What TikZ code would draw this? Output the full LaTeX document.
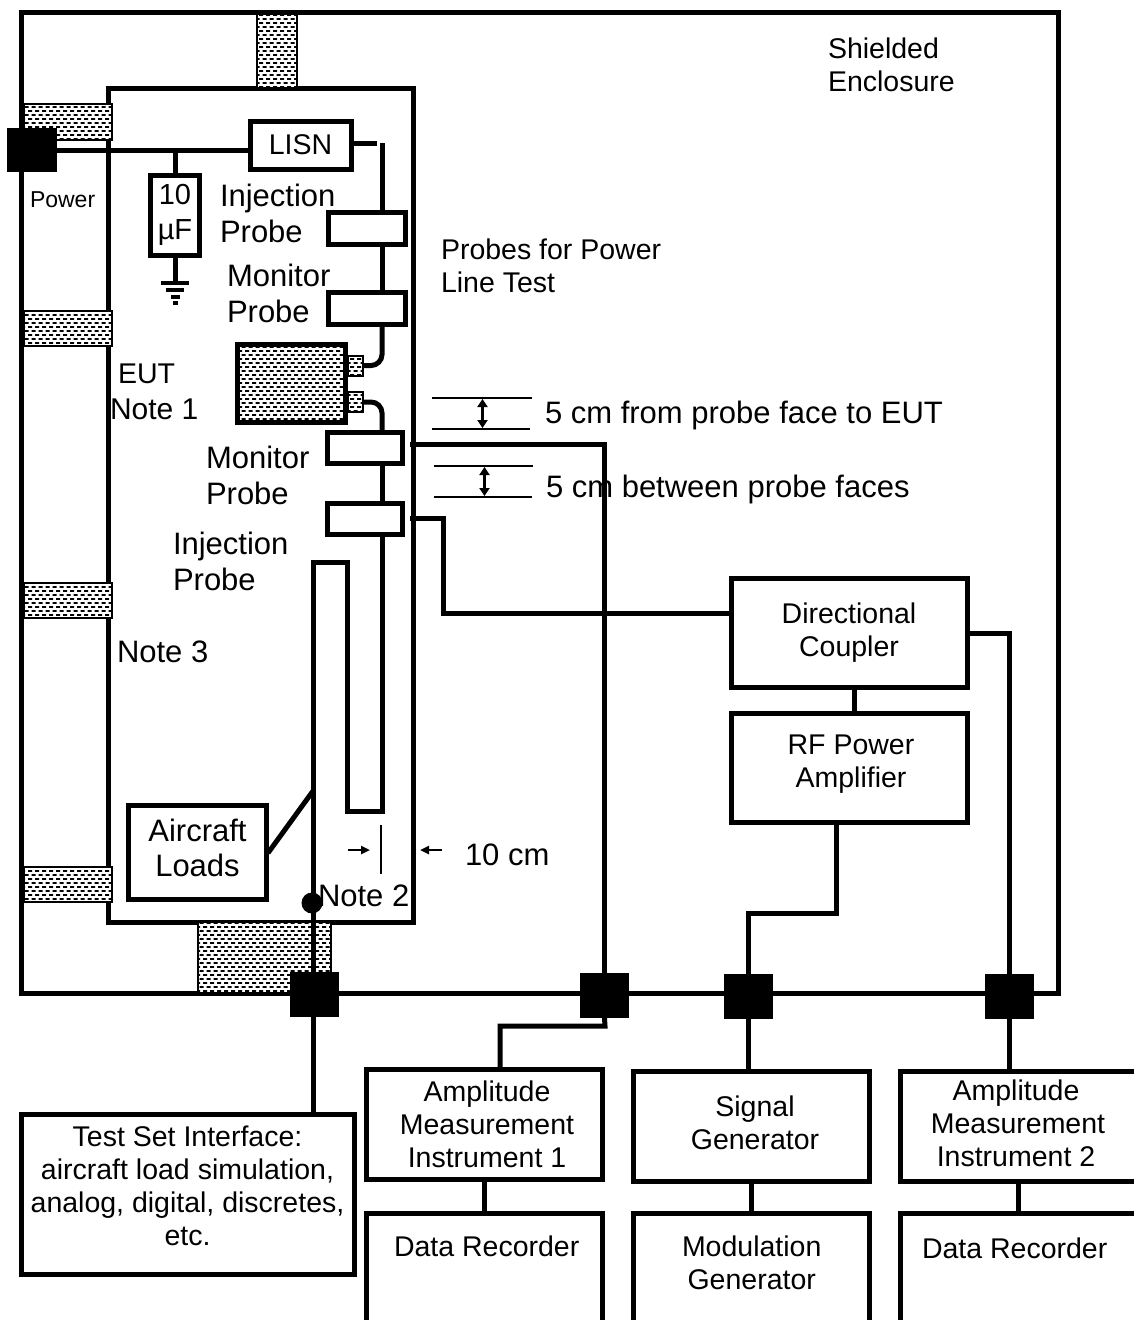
\documentclass[tikz,border=0pt]{standalone}
\usepackage{fontspec}
\setmainfont{Liberation Sans}
\usetikzlibrary{patterns,arrows.meta}
\pgfdeclarepatternformonly{meshdash}{\pgfqpoint{-0.5pt}{-0.5pt}}{\pgfqpoint{7.5pt}{8.5pt}}{\pgfqpoint{7pt}{8pt}}{
\pgfpathrectangle{\pgfqpoint{0pt}{0pt}}{\pgfqpoint{4pt}{1.9pt}}
\pgfpathrectangle{\pgfqpoint{3.5pt}{4pt}}{\pgfqpoint{4pt}{1.9pt}}
\pgfusepath{fill}}
\tikzset{
box/.style={draw, line width=5pt, fill=white, inner sep=0pt, outer sep=0pt, align=center, font=\fontsize{28.5}{33}\selectfont},
frame/.style={draw, line width=5pt, inner sep=0pt, outer sep=0pt},
mesh/.style={draw, line width=2pt, inner sep=0pt, outer sep=0pt, preaction={fill=white}, pattern=meshdash},
plug/.style={fill=black, inner sep=0pt, outer sep=0pt, minimum width=49pt, minimum height=45pt},
wire/.style={line width=5pt},
dimline/.style={line width=2.5pt},
lbl/.style={inner sep=0pt, outer sep=0pt, align=left, anchor=west, font=\fontsize{31}{36}\selectfont},
small/.style={lbl, font=\fontsize{28.5}{33}\selectfont},
}
\begin{document}
\begin{tikzpicture}[x=1pt, y=-1pt]
\useasboundingbox (0,0) rectangle (1134,1320);
% room and bench
\node[frame, minimum width=1037pt, minimum height=981pt] (enclosure) at (539.5,502.5) {};
\node[frame, minimum width=305pt, minimum height=834pt] (bench) at (261,505) {};
\node[mesh, minimum width=40pt, minimum height=74pt] (stript) at (277,51) {};
\node[mesh, minimum width=88pt, minimum height=36pt] (stripa) at (68,121.5) {};
\node[mesh, minimum width=88pt, minimum height=35pt] (stripb) at (68,328) {};
\node[mesh, minimum width=88pt, minimum height=35pt] (stripc) at (68,600.5) {};
\node[mesh, minimum width=88pt, minimum height=35pt] (stripd) at (68,884.5) {};
\node[mesh, minimum width=133pt, minimum height=71pt] (stripe) at (264.5,957.5) {};
% boxes on the bench
\node[box, minimum width=101pt, minimum height=48pt] (lisn) at (300.5,145) {LISN};
\node[box, minimum width=49pt, minimum height=80pt, font=\fontsize{29}{35}\selectfont] (cap) at (175,215) {10\\µF};
\node[box, minimum width=77pt, minimum height=32pt] (injtop) at (366.5,228) {};
\node[box, minimum width=77pt, minimum height=32pt] (montop) at (366.5,308) {};
\node[mesh, line width=5pt, minimum width=108pt, minimum height=78pt] (eut) at (291.5,383) {};
\node[mesh, minimum width=15pt, minimum height=20pt] (eutpa) at (355,365.5) {};
\node[mesh, minimum width=15pt, minimum height=20pt] (eutpb) at (355,402) {};
\node[box, minimum width=75pt, minimum height=31pt] (monlow) at (365,448) {};
\node[box, minimum width=75pt, minimum height=31pt] (injlow) at (365,518.5) {};
\node[box, minimum width=138pt, minimum height=94pt, text depth=10pt, font=\fontsize{31}{35}\selectfont] (loads) at (197.5,852.5) {Aircraft\\Loads};
% boxes outside
\node[box, minimum width=236pt, minimum height=109pt] (coupler) at (849,633) {Directional\\Coupler};
\node[box, minimum width=236pt, minimum height=109pt, text depth=14pt] (rfamp) at (849,768) {\hspace*{4pt}RF Power\\\hspace*{4pt}Amplifier};
\node[box, minimum width=333pt, minimum height=160pt, text depth=16pt] (testset) at (187.5,1194) {Test Set Interface:\\aircraft load simulation,\\analog, digital, discretes,\\etc.};
\node[box, minimum width=236pt, minimum height=110pt, text depth=-4pt] (ampa) at (484,1124) {\hspace*{6pt}Amplitude\\\hspace*{6pt}Measurement\\\hspace*{6pt}Instrument 1};
\node[box, minimum width=236pt, minimum height=110pt, text depth=7pt] (siggen) at (751,1126.5) {\hspace*{8pt}Signal\\\hspace*{8pt}Generator};
\node[box, minimum width=236pt, minimum height=110pt, text depth=6pt] (ampb) at (1018,1126.5) {Amplitude\hspace*{4pt}\\Measurement\hspace*{4pt}\\Instrument 2\hspace*{4pt}};
\node[box, minimum width=236pt, minimum height=150pt] (reca) at (484,1288) {};
\node[box, minimum width=236pt, minimum height=150pt] (modgen) at (751,1288) {};
\node[box, minimum width=236pt, minimum height=150pt] (recb) at (1018,1288) {};
% plugs
\node[plug, minimum height=44pt, minimum width=50pt] (power) at (32,150) {};
\node[plug] (plugload) at (314.5,994) {};
\node[plug] (plugmeas) at (604.5,995.5) {};
\node[plug] (plugsig) at (748.5,996.5) {};
\node[plug] (plugamp) at (1009.5,996.5) {};
% points
\coordinate (capjoin) at (175,150);
\coordinate (lisnout) at (377,143);
\coordinate (riser) at (382,143);
\coordinate (ubot) at (347,811);
\coordinate (utopr) at (347,562);
\coordinate (utopl) at (313,562);
\coordinate (tapm) at (410,444);
\coordinate (tapi) at (410,518);
\coordinate (tapbend) at (443,518);
\coordinate (couplerin) at (731,613);
\coordinate (measjog) at (605,1026);
\coordinate (measdrop) at (500,1026);
\coordinate (cplink) at (854,700);
\coordinate (rfout) at (836,913);
\coordinate (loadtap) at (313,791);
\coordinate (loadend) at (268,853);
\coordinate (gnd) at (175,283);
\coordinate (tenl) at (348,850);
\coordinate (tenr) at (442,850);
\coordinate (tenb) at (381,825);
% wires
\draw[wire] (power.east) -- (capjoin) -- (capjoin -| lisn.west);
\draw[wire] (capjoin) -- (cap.north);
\draw[wire] (cap.south) -- (gnd);
\draw[line width=4pt] (161,283) -- (189,283);
\draw[line width=4pt] (166,290) -- (184,290);
\draw[line width=4pt] (171,297) -- (180,297);
\draw[line width=4pt] (173,303) -- (178,303);
\draw[wire] (lisnout -| lisn.east) -- (lisnout);
\draw[wire] (riser) -- (riser |- injtop.north);
\draw[wire] (riser |- injtop.south) -- (riser |- montop.north);
\draw[wire, rounded corners=11pt] (riser |- montop.south) -- (riser |- eutpa) -- (eutpa.east);
\draw[wire, rounded corners=11pt] (eutpb.east) -- (riser |- eutpb) -- (riser |- monlow.north);
\draw[wire] (riser |- monlow.south) -- (riser |- injlow.north);
\draw[wire] (riser |- injlow.south) -- (riser |- ubot) -- (ubot) -- (utopr) -- (utopl) -- (utopl |- testset.north);
\draw[wire] (loadend) -- (loadtap);
\fill (312,903) circle (10.5pt);
\draw[wire] (tapm) -- (tapm -| plugmeas) -- (plugmeas.center);
\draw[wire] (plugmeas.south) -- (measjog) -- (measdrop) -- (measdrop |- ampa.north);
\draw[wire] (tapi) -- (tapbend) -- (tapbend |- couplerin) -- (couplerin);
\draw[wire] (coupler.east) -| (plugamp.center);
\draw[wire] (plugamp.south) -- (plugamp.south |- ampb.north);
\draw[wire] (cplink |- coupler.south) -- (cplink |- rfamp.north);
\draw[wire] (rfout |- rfamp.south) -- (rfout) -| (plugsig.center);
\draw[wire] (plugsig.south) -- (plugsig.south |- siggen.north);
\draw[wire] (ampa.south) -- (reca.north);
\draw[wire] (siggen.south) -- (modgen.north);
\draw[wire] (ampb.south) -- (recb.north);
% spacing marks
\draw[dimline] (432,398) -- (532,398);
\draw[dimline] (432,429) -- (530,429);
\draw[dimline,{Triangle[length=8pt,width=10pt]}-{Triangle[length=8pt,width=10pt]}] (482.5,399) -- (482.5,428);
\draw[dimline] (434,466) -- (533,466);
\draw[dimline] (434,497) -- (532,497);
\draw[dimline,{Triangle[length=8pt,width=10pt]}-{Triangle[length=8pt,width=10pt]}] (484.5,467) -- (484.5,496);
\draw[dimline] (tenb) -- ++(0,49);
\draw[dimline,-{Triangle[length=9pt,width=8pt]}] (tenl) -- ++(22,0);
\draw[dimline,-{Triangle[length=9pt,width=8pt]}] (tenr) -- ++(-22,0);
% labels
\node[small] (shieldtxt) at (828,65) {Shielded\\Enclosure};
\node[small] (powertxt) at (30,200) {\fontsize{23}{26}\selectfont Power};
\node[lbl] (injtxta) at (220,213) {Injection\\Probe};
\node[lbl] (montxta) at (227,293) {Monitor\\Probe};
\node[small] (linetxt) at (441,266) {Probes for Power\\Line Test};
\node[small] (euttxt) at (118,374) {EUT};
\node[lbl, font=\fontsize{30}{36}\selectfont] (noteone) at (110,409) {Note 1};
\node[lbl] (montxtb) at (206,475) {Monitor\\Probe};
\node[lbl] (injtxtb) at (173,561) {Injection\\Probe};
\node[lbl] (notethree) at (117,652) {Note 3};
\node[lbl] (notetwo) at (318,896) {Note 2};
\node[lbl] (tentxt) at (465,855) {10 cm};
\node[lbl] (gaptxta) at (545,415.5) {5 cm from probe face to EUT};
\node[lbl] (gaptxtb) at (546,489.5) {5 cm between probe faces};
\node[small] (rectxta) at (394,1246) {Data Recorder};
\node[small, align=center] (modtxt) at (682,1263) {Modulation\\Generator};
\node[small] (rectxtb) at (922,1248) {Data Recorder};
\end{tikzpicture}
\end{document}
